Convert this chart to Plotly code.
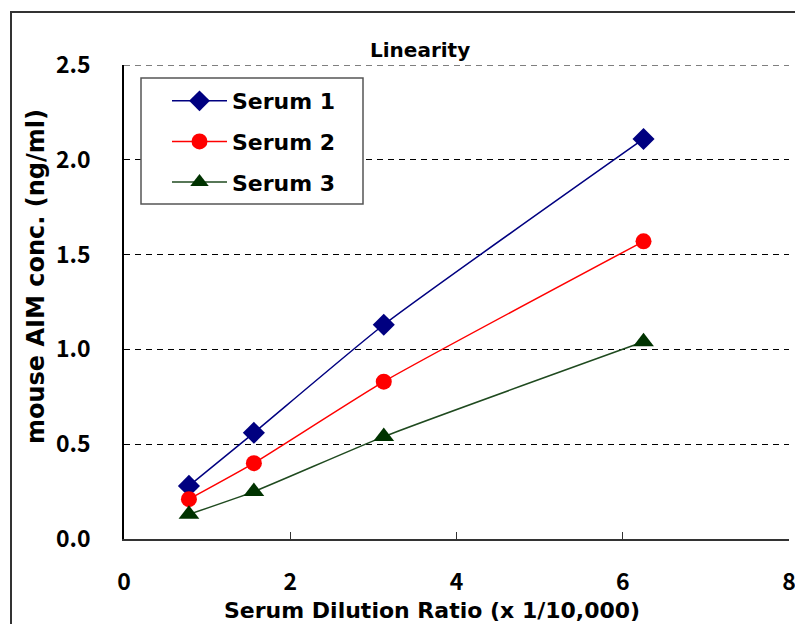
import plotly.graph_objects as go

dilution = [0.78125, 1.5625, 3.125, 6.25]
serum1 = [0.28, 0.56, 1.13, 2.11]
serum2 = [0.21, 0.40, 0.83, 1.57]
serum3 = [0.13, 0.25, 0.54, 1.04]
names = ["Serum 1", "Serum 2", "Serum 3"]
x_ticks = [0, 2, 4, 6, 8]
y_ticks = [0.0, 0.5, 1.0, 1.5, 2.0, 2.5]

W, H = 795, 624
L, T = 124, 65
R = W - 789
B = H - 539
pw, ph = W - L - R, H - T - B

def px2x(p):
    return (p - L) / pw

def py2y(p):
    return (H - B - p) / ph

jp = "Noto Sans CJK JP, DejaVu Sans, sans-serif"
wide = "DejaVu Sans, Verdana, sans-serif"

fig = go.Figure()
styles = [
    dict(color="#000080", symbol="diamond", size=17, mcolor="#000080"),
    dict(color="#FF0000", symbol="circle", size=16, mcolor="#FF0000"),
    dict(color="#1F4A1F", symbol="triangle-up", size=18, mcolor="#003300"),
]
for nm, ys, st in zip(names, [serum1, serum2, serum3], styles):
    fig.add_trace(go.Scatter(
        x=dilution, y=ys, name=nm, mode="lines+markers",
        line=dict(color=st["color"], width=1.5, shape="spline", smoothing=0.5),
        marker=dict(symbol=st["symbol"], size=st["size"], color=st["mcolor"],
                    line=dict(width=0)),
        legendgroup=nm,
    ))

fig.update_layout(
    width=W, height=H,
    margin=dict(l=L, r=R, t=T, b=B, autoexpand=False),
    paper_bgcolor="white", plot_bgcolor="white",
    showlegend=True,
    legend=dict(
        x=px2x(167), y=py2y(80), xanchor="left", yanchor="top",
        bgcolor="rgba(0,0,0,0)", borderwidth=0,
        font=dict(family=wide, size=22, color="black", weight="bold"),
        itemwidth=55, tracegroupgap=9,
    ),
    xaxis=dict(
        range=[0, 8], tickvals=x_ticks, ticktext=[str(v) for v in x_ticks],
        showline=True, linecolor="#333", linewidth=1.5,
        ticks="inside", ticklen=7, tickcolor="#333", tickwidth=1,
        showgrid=False, zeroline=False,
        ticklabelstandoff=22, ticklabeloverflow="allow",
        tickfont=dict(family=jp, size=23, color="black", weight="bold"),
    ),
    yaxis=dict(
        range=[0, 2.5], tickvals=y_ticks, ticktext=[f"{v:.1f}" for v in y_ticks],
        showline=True, linecolor="black", linewidth=1.5,
        ticks="", showgrid=True, gridcolor="black", gridwidth=1, griddash="6px,5px",
        zeroline=False,
        ticklabelstandoff=27,
        tickfont=dict(family=jp, size=23, color="black", weight="bold"),
    ),
    annotations=[
        dict(text="Linearity", xref="paper", yref="paper",
             x=px2x(420), y=py2y(50), xanchor="center", yanchor="middle",
             showarrow=False,
             font=dict(family=wide, size=20, color="black", weight="bold")),
        dict(text="Serum Dilution Ratio (x 1/10,000)", xref="paper", yref="paper",
             x=px2x(432), y=py2y(610), xanchor="center", yanchor="middle",
             showarrow=False,
             font=dict(family=wide, size=22, color="black", weight="bold")),
        dict(text="mouse AIM conc. (ng/ml)", xref="paper", yref="paper",
             x=px2x(36), y=py2y(277), xanchor="center", yanchor="middle",
             textangle=-90, showarrow=False,
             font=dict(family=wide, size=24, color="black", weight="bold")),
    ],
    shapes=[
        dict(type="rect", xref="paper", yref="paper",
             x0=px2x(11), x1=px2x(810), y0=py2y(640), y1=py2y(12),
             line=dict(color="#333", width=2), fillcolor="rgba(0,0,0,0)", layer="below"),
        dict(type="line", xref="paper", yref="y",
             x0=0, x1=1, y0=y_ticks[-1], y1=y_ticks[-1],
             line=dict(color="black", width=1, dash="6px,5px"), layer="below"),
        dict(type="rect", xref="paper", yref="paper",
             x0=px2x(141), x1=px2x(363), y0=py2y(204), y1=py2y(78),
             line=dict(color="#555", width=1.5), fillcolor="white", layer="above"),
    ],
)

fig.write_html(
    "out.html",
    config={"displayModeBar": False},
    post_script="document.body.style.margin='0';document.body.style.overflow='hidden';",
)
